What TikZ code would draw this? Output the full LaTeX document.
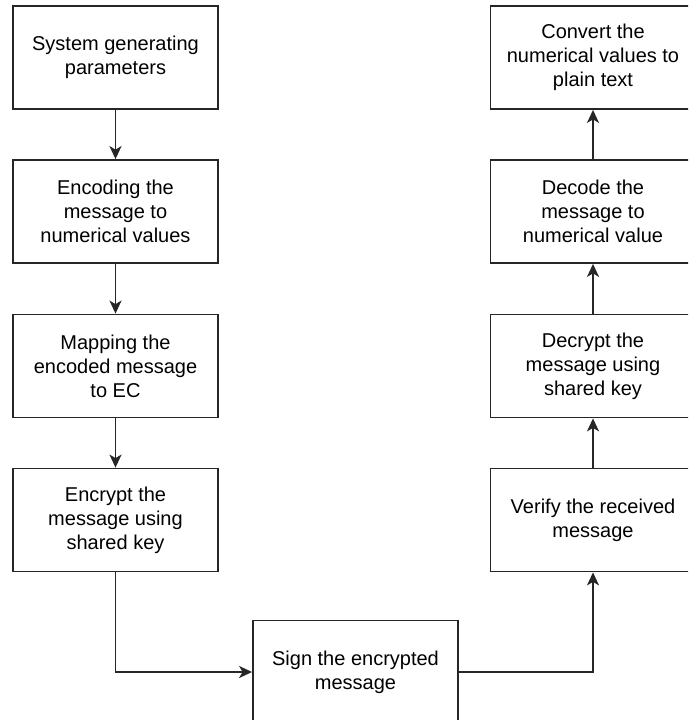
\documentclass[tikz,border=0pt]{standalone}
\usepackage{fontspec}
\setmainfont{Liberation Sans}
\usetikzlibrary{arrows.meta}
\begin{document}
\begin{tikzpicture}[x=1pt,y=-1pt,
  stepbox/.style={draw=black!85, line width=1.8pt, minimum width=205pt,
    minimum height=103pt, align=center, inner sep=0pt,
    font=\fontsize{20}{24}\selectfont},
  flow/.style={draw=black!85, line width=1.8pt,
    -{Stealth[length=13pt,width=12pt,inset=3.5pt]}}]
\useasboundingbox (0,0) rectangle (688,720);
\clip (0,0) rectangle (688,720);

% sender side
\node[stepbox] (sys)  at (115.5,57.5)  {System generating\\parameters};
\node[stepbox] (enc)  at (115.5,211.5) {Encoding the\\message to\\numerical values};
\node[stepbox] (map)  at (115.5,366)   {Mapping the\\encoded message\\to EC};
\node[stepbox] (encr) at (115.5,520)   {Encrypt the\\message using\\shared key};

% signature
\node[stepbox] (sign) at (355.5,672)   {Sign the encrypted\\message};

% receiver side
\node[stepbox] (ver)  at (593,520)     {Verify the received\\message};
\node[stepbox] (decr) at (593,366)     {Decrypt the\\message using\\shared key};
\node[stepbox] (deco) at (593,211.5)   {Decode the\\message to\\numerical value};
\node[stepbox] (conv) at (593,57.5)    {Convert the\\numerical values to\\plain text};

\draw[flow] (sys) -- (enc);
\draw[flow] (enc) -- (map);
\draw[flow] (map) -- (encr);
\draw[flow] (encr.south) |- (sign.west);
\draw[flow] (sign.east) -| (ver.south);
\draw[flow] (ver) -- (decr);
\draw[flow] (decr) -- (deco);
\draw[flow] (deco) -- (conv);
\end{tikzpicture}
\end{document}
